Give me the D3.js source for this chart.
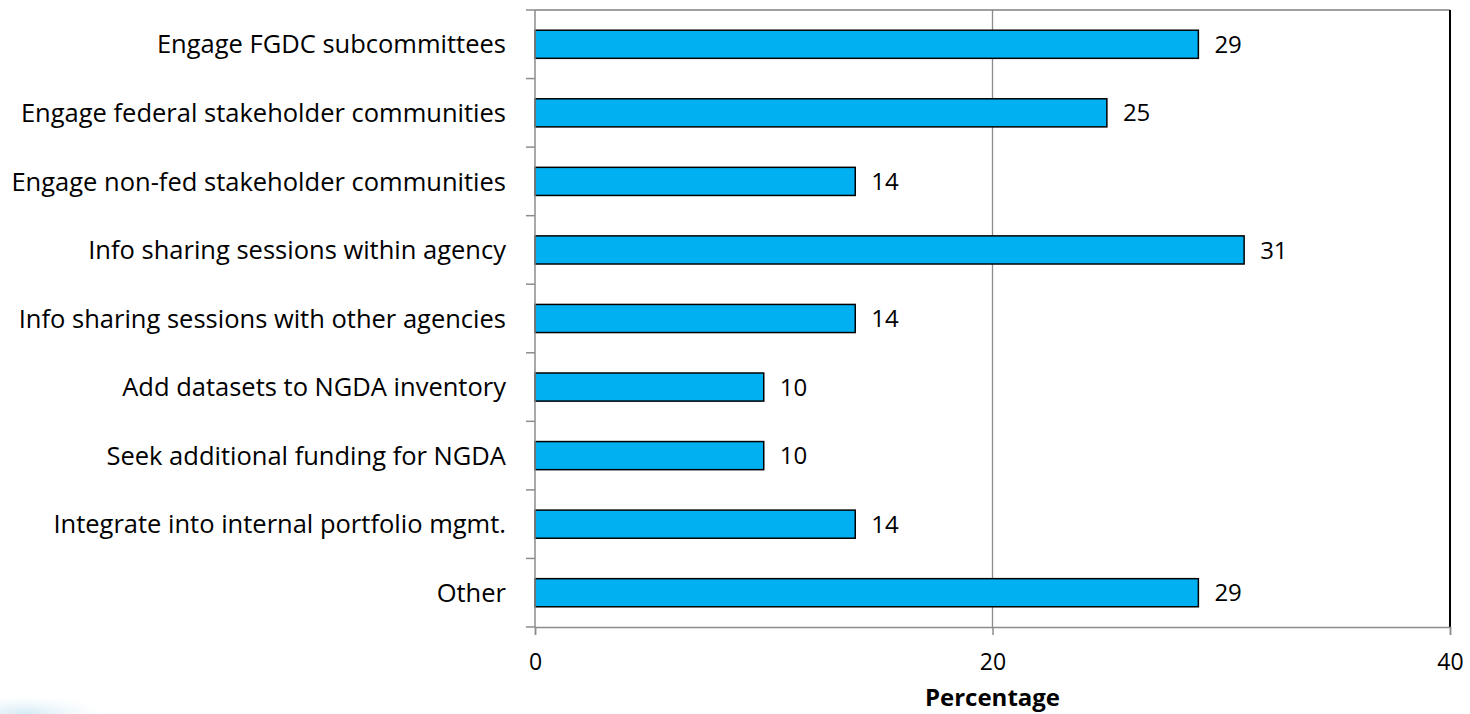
<!DOCTYPE html>
<html>
<head>
<meta charset="utf-8">
<script src="https://cdn.jsdelivr.net/npm/d3@7"></script>
<style>
  html, body { margin: 0; padding: 0; background: #fff; }
  svg { display: block; font-family: "Open Sans", sans-serif; }
</style>
</head>
<body>
<svg id="chart" width="1470" height="714"></svg>
<script>
var categories = [
  'Engage FGDC subcommittees',
  'Engage federal stakeholder communities',
  'Engage non-fed stakeholder communities',
  'Info sharing sessions within agency',
  'Info sharing sessions with other agencies',
  'Add datasets to NGDA inventory',
  'Seek additional funding for NGDA',
  'Integrate into internal portfolio mgmt.',
  'Other'
];
var values = [29, 25, 14, 31, 14, 10, 10, 14, 29];
var xTicks = [0, 20, 40];
var xTitle = 'Percentage';

var svg = d3.select('#chart');
var margin = { top: 10, right: 20, bottom: 87, left: 535 };
var width = 1470 - margin.left - margin.right;
var height = 714 - margin.top - margin.bottom;
var font = '"Open Sans", sans-serif';

// faint background smudge bottom-left
var defs = svg.append('defs');
var grad = defs.append('radialGradient').attr('id', 'smudge');
grad.append('stop').attr('offset', '0%').attr('stop-color', '#9fd0e8').attr('stop-opacity', 0.45);
grad.append('stop').attr('offset', '100%').attr('stop-color', '#cfe8f4').attr('stop-opacity', 0);
svg.append('ellipse')
  .attr('cx', 25).attr('cy', 714).attr('rx', 80).attr('ry', 18)
  .attr('fill', 'url(#smudge)');

var x = d3.scaleLinear().domain([0, 40]).range([0, width]);
var y = d3.scaleBand().domain(categories).range([0, height]).paddingInner(0.59).paddingOuter(0.295);

var g = svg.append('g').attr('transform', 'translate(' + margin.left + ',' + margin.top + ')');

// gridline at 20
g.selectAll('.grid')
  .data(xTicks.filter(d => d > 0 && d < 40))
  .enter().append('line')
  .attr('x1', d => x(d)).attr('x2', d => x(d))
  .attr('y1', 0).attr('y2', height)
  .attr('stroke', '#8c8c8c').attr('stroke-width', 1.3);

// top and right border
g.append('line').attr('x1', 0).attr('x2', width).attr('y1', 0).attr('y2', 0)
  .attr('stroke', '#7f7f7f').attr('stroke-width', 1.5);
g.append('line').attr('x1', width).attr('x2', width).attr('y1', 0).attr('y2', height)
  .attr('stroke', '#000').attr('stroke-width', 2);

// bars
g.selectAll('.bar')
  .data(values)
  .enter().append('rect')
  .attr('x', 0)
  .attr('y', (d, i) => y(categories[i]))
  .attr('width', d => x(d))
  .attr('height', y.bandwidth())
  .attr('fill', '#00b0f0')
  .attr('stroke', '#000')
  .attr('stroke-width', 1.5);

// value labels
g.selectAll('.val')
  .data(values)
  .enter().append('text')
  .attr('x', d => x(d) + 16)
  .attr('y', (d, i) => y(categories[i]) + y.bandwidth() / 2)
  .attr('dy', '0.36em')
  .attr('font-size', 24)
  .attr('fill', '#000')
  .text(d => d);

// left axis: ticks at category boundaries
var boundaries = d3.range(categories.length + 1).map(i => i * height / categories.length);
g.selectAll('.ytick')
  .data(boundaries)
  .enter().append('line')
  .attr('x1', -9).attr('x2', 0)
  .attr('y1', d => d).attr('y2', d => d)
  .attr('stroke', '#8c8c8c').attr('stroke-width', 1.5);
g.append('line').attr('x1', 0).attr('x2', 0).attr('y1', 0).attr('y2', height)
  .attr('stroke', '#8c8c8c').attr('stroke-width', 1.5);

g.selectAll('.ylab')
  .data(categories)
  .enter().append('text')
  .attr('x', -29)
  .attr('y', d => y(d) + y.bandwidth() / 2)
  .attr('dy', '0.36em')
  .attr('text-anchor', 'end')
  .attr('font-size', 25.5)
  .attr('fill', '#000')
  .text(d => d);

// bottom axis
var xAxis = g.append('g')
  .attr('transform', 'translate(0,' + height + ')')
  .call(d3.axisBottom(x).tickValues(xTicks).tickSize(8).tickFormat(d3.format('d')));
xAxis.select('.domain').attr('stroke', '#8c8c8c').attr('stroke-width', 1.5);
xAxis.selectAll('.tick line').attr('stroke', '#8c8c8c').attr('stroke-width', 1.5);
xAxis.selectAll('.tick text')
  .attr('y', 43).attr('dy', 0)
  .attr('font-size', 23).attr('fill', '#000').attr('font-family', font);

svg.append('text')
  .attr('x', margin.left + x(20))
  .attr('y', 706)
  .attr('text-anchor', 'middle')
  .attr('font-size', 24)
  .attr('font-weight', 'bold')
  .attr('fill', '#000')
  .text(xTitle);
</script>
</body>
</html>
